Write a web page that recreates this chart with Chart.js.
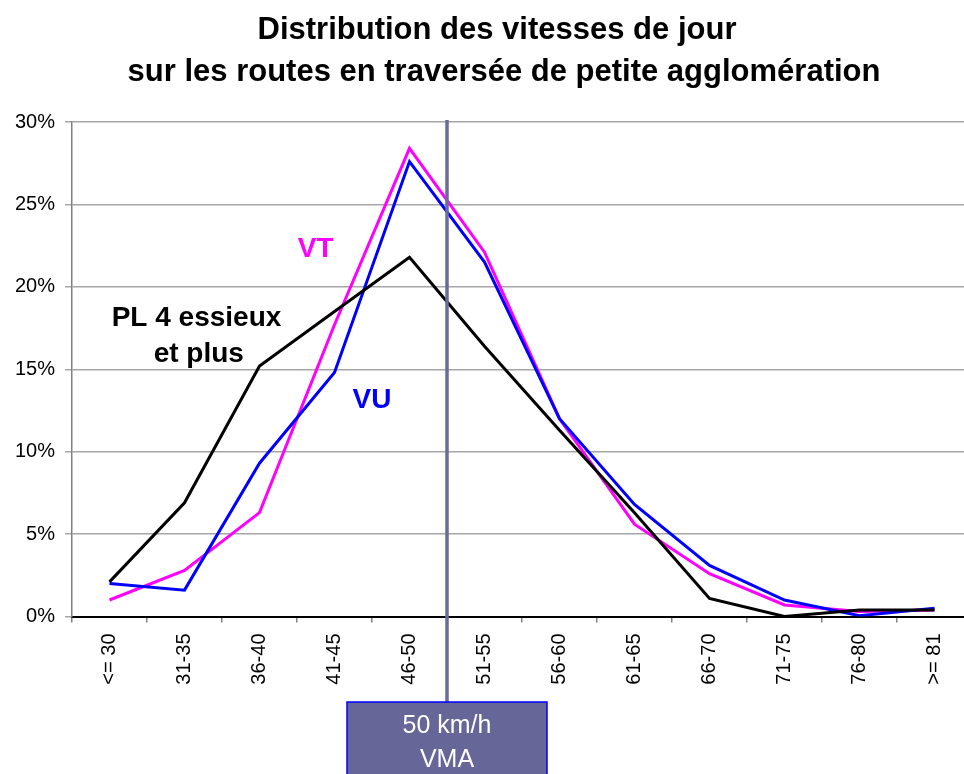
<!DOCTYPE html>
<html>
<head>
<meta charset="utf-8">
<script src="https://cdn.jsdelivr.net/npm/chart.js@4.4.0/dist/chart.umd.min.js"></script>
<style>
  html, body { margin: 0; padding: 0; background: #fff; overflow: hidden; }
  .chart-container { position: relative; width: 990px; height: 774px; }
</style>
</head>
<body>
<div class="chart-container">
  <canvas id="speedChart"></canvas>
</div>
<script>
const speedClasses = ['<= 30', '31-35', '36-40', '41-45', '46-50', '51-55', '56-60', '61-65', '66-70', '71-75', '76-80', '>= 81'];
const vtValues = [1.0, 2.8, 6.3, 17.7, 28.4, 22.1, 12.0, 5.6, 2.6, 0.7, 0.3, 0.4];
const vuValues = [2.0, 1.6, 9.3, 14.8, 27.6, 21.5, 12.0, 6.8, 3.1, 1.0, 0.05, 0.5];
const plValues = [2.1, 6.9, 15.2, 18.5, 21.8, 16.4, 11.3, 6.3, 1.1, 0.0, 0.4, 0.4];
const yTicks = [0, 5, 10, 15, 20, 25, 30];
const titleLines = ['Distribution des vitesses de jour', 'sur les routes en traversée de petite agglomération'];

const FONT = 'Arial, "Liberation Sans", sans-serif';

// VMA marker sits between "46-50" and "51-55"
const vmaAfterIndex = 4;

const curveLabels = [
  { text: 'VT', color: '#ff00ff', x: 2.75, y: 22.3 },
  { text: 'PL 4 essieux', color: '#000000', x: 1.16, y: 18.1 },
  { text: 'et plus', color: '#000000', x: 1.19, y: 15.9 },
  { text: 'VU', color: '#0000ff', x: 3.5, y: 13.1 }
];

// title is drawn by hand so it can sit centred on the whole picture
const titlePlugin = {
  id: 'twoLineTitle',
  afterDraw(chart) {
    const ctx = chart.ctx;
    ctx.save();
    ctx.font = 'bold 31px ' + FONT;
    ctx.fillStyle = '#000000';
    ctx.textAlign = 'center';
    ctx.textBaseline = 'middle';
    ctx.fillText(titleLines[0], 497, 30);
    ctx.fillText(titleLines[1], 504, 72);
    ctx.restore();
  }
};

const vmaPlugin = {
  id: 'vmaMarker',
  afterDatasetsDraw(chart) {
    const { ctx, chartArea, scales } = chart;
    const x = (scales.x.getPixelForValue(vmaAfterIndex) + scales.x.getPixelForValue(vmaAfterIndex + 1)) / 2;
    const boxTop = 702;

    ctx.save();
    // curve labels
    ctx.font = 'bold 28px ' + FONT;
    ctx.textAlign = 'center';
    ctx.textBaseline = 'middle';
    curveLabels.forEach(l => {
      ctx.fillStyle = l.color;
      ctx.fillText(l.text, scales.x.getPixelForValue(l.x), scales.y.getPixelForValue(l.y));
    });

    // vertical line
    ctx.strokeStyle = '#6b6b9c';
    ctx.lineWidth = 3.5;
    ctx.beginPath();
    ctx.moveTo(x, chartArea.top - 2);
    ctx.lineTo(x, boxTop);
    ctx.stroke();

    // box
    ctx.fillStyle = '#666699';
    ctx.fillRect(x - 100, boxTop, 200, 90);
    ctx.strokeStyle = '#0000ff';
    ctx.lineWidth = 1.5;
    ctx.strokeRect(x - 100, boxTop, 200, 90);

    ctx.fillStyle = '#ffffff';
    ctx.font = '25px ' + FONT;
    ctx.fillText('50 km/h', x, 726);
    ctx.fillText('VMA', x, 760);
    ctx.restore();
  }
};

new Chart(document.getElementById('speedChart'), {
  type: 'line',
  data: {
    labels: speedClasses,
    datasets: [
      { label: 'PL 4 essieux et plus', data: plValues, borderColor: '#000000' },
      { label: 'VU', data: vuValues, borderColor: '#0000ff' },
      { label: 'VT', data: vtValues, borderColor: '#ff00ff' }
    ]
  },
  options: {
    responsive: true,
    maintainAspectRatio: false,
    animation: false,
    layout: { padding: { left: 0, right: 18, top: 122, bottom: 0 } },
    elements: {
      line: { borderWidth: 3, tension: 0, fill: false },
      point: { radius: 0, hoverRadius: 0 }
    },
    plugins: {
      legend: { display: false },
      tooltip: { enabled: false },
      title: { display: false }
    },
    scales: {
      x: {
        type: 'category',
        offset: true,
        grid: { display: true, offset: true, drawOnChartArea: false, tickLength: 6, color: '#808080', lineWidth: 1.5 },
        border: { display: true, color: '#000000', width: 2 },
        ticks: {
          autoSkip: false, minRotation: 90, maxRotation: 90,
          color: '#000000', padding: 11,
          font: { family: FONT, size: 20 }
        },
        afterFit(scale) { scale.height = 157.5; }
      },
      y: {
        type: 'linear',
        min: 0,
        max: 30,
        afterBuildTicks(scale) { scale.ticks = yTicks.map(v => ({ value: v })); },
        grid: { color: '#a6a6a6', lineWidth: 1.5, tickLength: 7 },
        border: { display: true, color: '#808080', width: 1.5 },
        ticks: {
          color: '#000000', padding: 10,
          font: { family: FONT, size: 20 },
          callback: v => v + '%'
        },
        afterFit(scale) { scale.width = 72; }
      }
    }
  },
  plugins: [vmaPlugin, titlePlugin]
});
</script>
</body>
</html>
